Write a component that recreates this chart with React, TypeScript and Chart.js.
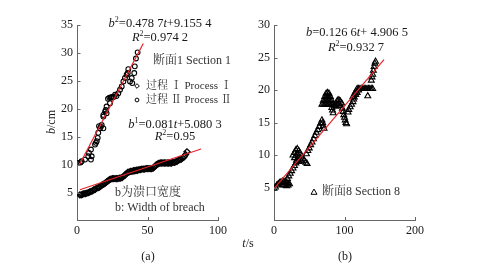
import React, { useEffect, useRef } from "react";
import { Chart, registerables } from "chart.js";
Chart.register(...registerables);

// ---------- data ----------
// Section 1, process II (circles)
const tProcessII = [0.9, 2.5, 3.3, 5.7, 8.0, 8.5, 9.9, 9.9, 10.4, 12.8, 14.0, 14.7, 15.1, 15.6, 16.3, 17.5, 18.7, 18.7, 18.7, 19.9, 21.0, 21.0, 22.0, 23.0, 23.4, 24.0, 24.6, 25.0, 26.0, 27.0, 28.0, 29.3, 30.5, 31.7, 32.9, 34.0, 35.2, 36.0, 36.4, 37.6, 38.8, 39.2, 40.6, 41.0, 41.8, 43.0, 13.4, 16.9, 20.4];
const bProcessII = [10.3, 10.4, 10.6, 10.9, 11.5, 12.1, 10.9, 12.7, 11.5, 13.6, 14.2, 14.8, 15.7, 16.9, 16.5, 17.1, 16.5, 18.6, 18.9, 19.5, 19.2, 20.4, 21.8, 22.0, 21.0, 22.0, 22.1, 22.0, 22.1, 22.5, 22.3, 22.8, 23.4, 24.0, 24.9, 25.5, 26.1, 26.4, 27.1, 24.9, 25.5, 24.6, 26.4, 27.6, 29.0, 30.1, 13.9, 16.8, 19.8];

// Section 1, process I (diamonds)
const tProcessI = [2, 3, 4, 5, 6, 7, 8, 9, 10, 11, 12, 13, 14, 15, 16, 17, 18, 19, 20, 21, 22, 23, 24, 25, 26, 27, 28, 29, 30, 31, 32, 33, 34, 35, 36, 37, 38, 39, 40, 41, 42, 43, 44, 45, 46, 47, 48, 49, 50, 51, 52, 53, 54, 55, 56, 57, 58, 59, 60, 61, 62, 63, 64, 65, 66, 67, 68, 69, 70, 71, 72, 73, 74, 75, 76, 77, 78];
const bProcessI = [4.6, 4.6, 4.7, 4.8, 4.8, 4.9, 5.0, 5.1, 5.2, 5.3, 5.5, 5.6, 5.8, 5.9, 6.0, 6.2, 6.4, 6.5, 6.7, 6.9, 7.1, 7.3, 7.4, 7.5, 7.5, 7.5, 7.5, 7.5, 7.6, 7.6, 7.7, 7.9, 8.1, 8.4, 8.6, 8.7, 8.8, 8.8, 8.9, 8.9, 9.0, 9.0, 9.1, 9.1, 9.2, 9.2, 9.2, 9.3, 9.3, 9.3, 9.3, 9.3, 9.4, 9.6, 9.9, 10.1, 10.2, 10.3, 10.3, 10.3, 10.3, 10.3, 10.3, 10.3, 10.3, 10.3, 10.4, 10.4, 10.5, 10.6, 10.8, 10.9, 11.0, 11.2, 11.4, 11.8, 12.3];

// Section 8 (triangles)
const tSection8 = [0, 2, 4, 6, 8, 10, 12, 14, 16, 18, 20, 22, 12, 14, 16, 18, 20, 19, 21, 23, 25, 27, 29, 31, 32, 27, 29, 31, 33, 35, 37, 39, 41, 43, 45, 47, 29, 31, 33, 35, 37, 39, 33, 35, 46, 48, 50, 52, 54, 56, 58, 60, 62, 64, 66, 68, 69, 70, 71, 68, 70, 72, 74, 76, 78, 80, 82, 84, 70, 72, 74, 76, 78, 80, 82, 72, 74, 76, 78, 80, 74, 76, 78, 82, 83, 84, 86, 88, 90, 92, 94, 96, 88, 90, 92, 94, 97, 98, 99, 100, 101, 102, 103, 105, 106, 108, 110, 112, 113, 112, 114, 116, 114, 116, 118, 120, 118, 120, 122, 124, 126, 128, 130, 132, 134, 136, 138, 140, 133, 138, 139, 140, 141, 142, 143, 144];
const bSection8 = [4.9, 5.1, 5.4, 5.6, 5.8, 5.9, 6.0, 6.0, 5.9, 5.8, 5.7, 5.6, 5.5, 5.4, 5.4, 5.3, 5.4, 6.4, 6.8, 7.2, 7.6, 8.0, 8.4, 8.8, 9.2, 10.0, 10.4, 10.8, 11.0, 10.7, 10.3, 9.9, 9.5, 9.2, 8.9, 8.7, 9.6, 9.9, 10.2, 9.8, 9.4, 9.1, 9.4, 9.0, 10.2, 10.7, 11.1, 11.6, 12.0, 12.5, 13.0, 13.5, 13.9, 14.4, 14.9, 15.4, 15.0, 14.5, 14.1, 17.8, 17.8, 17.8, 17.8, 17.8, 17.8, 17.8, 17.8, 17.8, 18.4, 18.4, 18.4, 18.4, 18.4, 18.4, 18.4, 19.0, 19.0, 19.0, 19.0, 19.0, 19.5, 19.6, 19.5, 17.3, 16.9, 16.5, 17.6, 18.0, 18.4, 18.5, 18.3, 18.0, 17.5, 17.8, 17.9, 17.6, 17.2, 16.7, 16.2, 15.8, 15.4, 15.0, 14.8, 16.6, 17.0, 17.4, 17.8, 18.2, 18.6, 19.0, 19.4, 19.8, 18.9, 19.3, 19.6, 20.0, 20.2, 20.2, 20.2, 20.2, 20.2, 20.2, 20.2, 20.2, 20.2, 20.2, 20.2, 20.2, 19.1, 21.5, 22.0, 22.4, 23.0, 23.6, 24.1, 24.4];

// fitted lines (end points)
const fitIT = [2, 88];
const fitIB = [5.5, 12.8];
const fitIIT = [1.5, 47];
const fitIIB = [9.9, 31.7];
const fit8T = [0, 156];
const fit8B = [4.9, 24.7];

// ticks
const xTicksA = [0, 50, 100];
const yTicksA = [5, 10, 15, 20, 25, 30, 35];
const xTicksB = [0, 100, 200];
const yTicksB = [5, 10, 15, 20, 25, 30];

// ---------- styles ----------
const FONT = '"Liberation Serif", "Times New Roman", "Noto Serif CJK SC", "Noto Sans CJK SC", serif';
const AXIS = "#666";
const TXT = "#1a1a1a";
const RED = "#e8242a";
const FS = 12;

type Run = { s: string; it?: boolean; sup?: boolean };
type Label = { runs: Run[]; x: number; y: number; align: "left" | "center"; rot?: boolean; color?: string; size?: number };
type Marker = { kind: "diamond" | "circle" | "triangle"; x: number; y: number };

function fontFor(r: Run, size: number) {
  const s = r.sup ? Math.round(size * 0.62) : size;
  return `${r.it ? "italic " : ""}${s}px ${FONT}`;
}

function drawRuns(ctx: CanvasRenderingContext2D, l: Label) {
  const size = l.size || FS;
  ctx.save();
  ctx.fillStyle = l.color || TXT;
  ctx.textBaseline = "middle";
  ctx.textAlign = "left";
  let w = 0;
  for (const r of l.runs) {
    ctx.font = fontFor(r, size);
    w += ctx.measureText(r.s).width;
  }
  ctx.translate(l.x, l.y);
  if (l.rot) ctx.rotate(-Math.PI / 2);
  let cx = l.align === "center" ? -w / 2 : 0;
  for (const r of l.runs) {
    ctx.font = fontFor(r, size);
    ctx.fillText(r.s, cx, r.sup ? -size * 0.32 : 0);
    cx += ctx.measureText(r.s).width;
  }
  ctx.restore();
}

function drawMarker(ctx: CanvasRenderingContext2D, m: Marker) {
  ctx.save();
  ctx.strokeStyle = "#000";
  ctx.lineWidth = 1;
  ctx.beginPath();
  if (m.kind === "circle") {
    ctx.arc(m.x, m.y, 1.9, 0, Math.PI * 2);
  } else if (m.kind === "diamond") {
    ctx.moveTo(m.x, m.y - 2.3);
    ctx.lineTo(m.x + 2.3, m.y);
    ctx.lineTo(m.x, m.y + 2.3);
    ctx.lineTo(m.x - 2.3, m.y);
    ctx.closePath();
  } else {
    ctx.moveTo(m.x, m.y - 3);
    ctx.lineTo(m.x + 3, m.y + 2.3);
    ctx.lineTo(m.x - 3, m.y + 2.3);
    ctx.closePath();
  }
  ctx.stroke();
  ctx.restore();
}

function annotPlugin(labels: Label[], markers: Marker[]) {
  return {
    id: "annot",
    afterDraw(chart: any) {
      const ctx = chart.ctx as CanvasRenderingContext2D;
      const { left, bottom } = chart.chartArea;
      // inward tick marks
      ctx.save();
      ctx.strokeStyle = AXIS;
      ctx.lineWidth = 1;
      const ys = chart.scales.y;
      ys.ticks.forEach((t: any) => {
        const py = Math.round(ys.getPixelForValue(t.value)) + 0.5;
        ctx.beginPath();
        ctx.moveTo(left, py);
        ctx.lineTo(left + 3.5, py);
        ctx.stroke();
      });
      const xs = chart.scales.x;
      xs.ticks.forEach((t: any) => {
        const px = Math.round(xs.getPixelForValue(t.value)) + 0.5;
        ctx.beginPath();
        ctx.moveTo(px, bottom);
        ctx.lineTo(px, bottom - 3.5);
        ctx.stroke();
      });
      ctx.restore();
      labels.forEach((l) => drawRuns(ctx, l));
      markers.forEach((m) => drawMarker(ctx, m));
    },
  };
}

function pts(t: number[], b: number[]) {
  return t.map((v, i) => ({ x: v, y: b[i] }));
}

function makeScales(xMax: number, yMax: number, xTicks: number[], yTicks: number[], yWidth: number, xHeight: number) {
  const tickFont = { family: FONT, size: FS };
  return {
    x: {
      type: "linear",
      min: 0,
      max: xMax,
      position: "bottom",
      grid: { display: true, drawOnChartArea: false, drawTicks: false },
      border: { display: true, color: AXIS, width: 1 },
      ticks: { padding: 3, font: tickFont, color: TXT, maxRotation: 0 },
      afterBuildTicks: (s: any) => {
        s.ticks = xTicks.map((v) => ({ value: v }));
      },
      afterFit: (s: any) => {
        s.height = xHeight;
      },
    },
    y: {
      type: "linear",
      min: 0,
      max: yMax,
      position: "left",
      grid: { display: true, drawOnChartArea: false, drawTicks: false },
      border: { display: true, color: AXIS, width: 1 },
      ticks: { padding: 4, font: tickFont, color: TXT },
      afterBuildTicks: (s: any) => {
        s.ticks = yTicks.map((v) => ({ value: v }));
      },
      afterFit: (s: any) => {
        s.width = yWidth;
      },
    },
  };
}

const scatterStyle = (style: string, r: number, bw: number) => ({
  type: "scatter",
  pointStyle: style,
  pointRadius: r,
  pointBorderWidth: bw,
  borderColor: "#000",
  backgroundColor: "rgba(0,0,0,0)",
  pointHoverRadius: r,
  order: 2,
});

const lineStyle = {
  type: "line",
  showLine: true,
  borderColor: RED,
  borderWidth: 1.2,
  pointRadius: 0,
  fill: false,
  order: 1,
};

export default function App() {
  const refA = useRef<HTMLCanvasElement>(null);
  const refB = useRef<HTMLCanvasElement>(null);

  useEffect(() => {
    const EQ = 12.5;
    const labelsA: Label[] = [
      { runs: [{ s: "b", it: true }, { s: "2", sup: true }, { s: "=0.478 7" }, { s: "t", it: true }, { s: "+9.155 4" }], x: 160, y: 24, align: "center", size: EQ },
      { runs: [{ s: "R", it: true }, { s: "2", sup: true }, { s: "=0.974 2" }], x: 160, y: 38, align: "center", size: EQ },
      { runs: [{ s: "断面1 Section 1" }], x: 153, y: 61, align: "left", color: "#333" },
      { runs: [{ s: "过程 Ⅰ Process Ⅰ" }], x: 146, y: 86, align: "left", color: "#333", size: 11 },
      { runs: [{ s: "过程 Ⅱ Process Ⅱ" }], x: 146, y: 100, align: "left", color: "#333", size: 11 },
      { runs: [{ s: "b", it: true }, { s: "1", sup: true }, { s: "=0.081" }, { s: "t", it: true }, { s: "+5.080 3" }], x: 175, y: 125, align: "center", size: EQ },
      { runs: [{ s: "R", it: true }, { s: "2", sup: true }, { s: "=0.95" }], x: 175, y: 137, align: "center", size: EQ },
      { runs: [{ s: "b为溃口宽度" }], x: 115, y: 193, align: "left", color: "#333" },
      { runs: [{ s: "b: Width of breach" }], x: 115, y: 208, align: "left", color: "#333" },
      { runs: [{ s: "b", it: true }, { s: "/cm" }], x: 52, y: 122, align: "center", rot: true },
      { runs: [{ s: "(a)" }], x: 148, y: 257, align: "center" },
    ];
    const markersA: Marker[] = [
      { kind: "diamond", x: 137, y: 86 },
      { kind: "circle", x: 137, y: 100 },
    ];
    const offB = 240;
    const labelsB: Label[] = [
      { runs: [{ s: "b", it: true }, { s: "=0.126 6" }, { s: "t", it: true }, { s: "+ 4.906 5" }], x: 357 - offB, y: 33, align: "center", size: EQ },
      { runs: [{ s: "R", it: true }, { s: "2", sup: true }, { s: "=0.932 7" }], x: 356 - offB, y: 48, align: "center", size: EQ },
      { runs: [{ s: "断面8 Section 8" }], x: 322 - offB, y: 192, align: "left", color: "#333" },
      { runs: [{ s: "t", it: true }, { s: "/s" }], x: 248 - offB, y: 244, align: "center" },
      { runs: [{ s: "(b)" }], x: 345 - offB, y: 257, align: "center" },
    ];
    const markersB: Marker[] = [{ kind: "triangle", x: 314 - offB, y: 192 }];

    const chartA = new Chart(refA.current!, {
      type: "scatter",
      data: {
        datasets: [
          { ...lineStyle, data: pts(fitIIT, fitIIB) } as any,
          { ...lineStyle, data: pts(fitIT, fitIB) } as any,
          { ...scatterStyle("rectRot", 3.0, 1.3), data: pts(tProcessI, bProcessI) } as any,
          { ...scatterStyle("circle", 2.4, 1.1), data: pts(tProcessII, bProcessII) } as any,
        ],
      },
      options: {
        animation: false,
        responsive: false,
        events: [],
        layout: { padding: { left: 0, top: 25, right: 240 - 218, bottom: 0 } },
        plugins: { legend: { display: false }, tooltip: { enabled: false } },
        scales: makeScales(100, 35, xTicksA, yTicksA, 77, 50.5) as any,
      },
      plugins: [annotPlugin(labelsA, markersA)],
    });

    const chartB = new Chart(refB.current!, {
      type: "scatter",
      data: {
        datasets: [
          { ...lineStyle, data: pts(fit8T, fit8B) } as any,
          { ...scatterStyle("triangle", 3.4, 1.1), data: pts(tSection8, bSection8) } as any,
        ],
      },
      options: {
        animation: false,
        responsive: false,
        events: [],
        layout: { padding: { left: 0, top: 25, right: 239 - (415 - offB), bottom: 0 } },
        plugins: { legend: { display: false }, tooltip: { enabled: false } },
        scales: makeScales(200, 30, xTicksB, yTicksB, 274 - offB, 50.5) as any,
      },
      plugins: [annotPlugin(labelsB, markersB)],
    });

    return () => {
      chartA.destroy();
      chartB.destroy();
    };
  }, []);

  return (
    <div style={{ position: "absolute", left: 0, top: 0, width: 479, height: 271, background: "#fff" }}>
      <canvas ref={refA} width={240} height={271} style={{ position: "absolute", left: 0, top: 0, width: 240, height: 271 }} />
      <canvas ref={refB} width={239} height={271} style={{ position: "absolute", left: 240, top: 0, width: 239, height: 271 }} />
    </div>
  );
}
